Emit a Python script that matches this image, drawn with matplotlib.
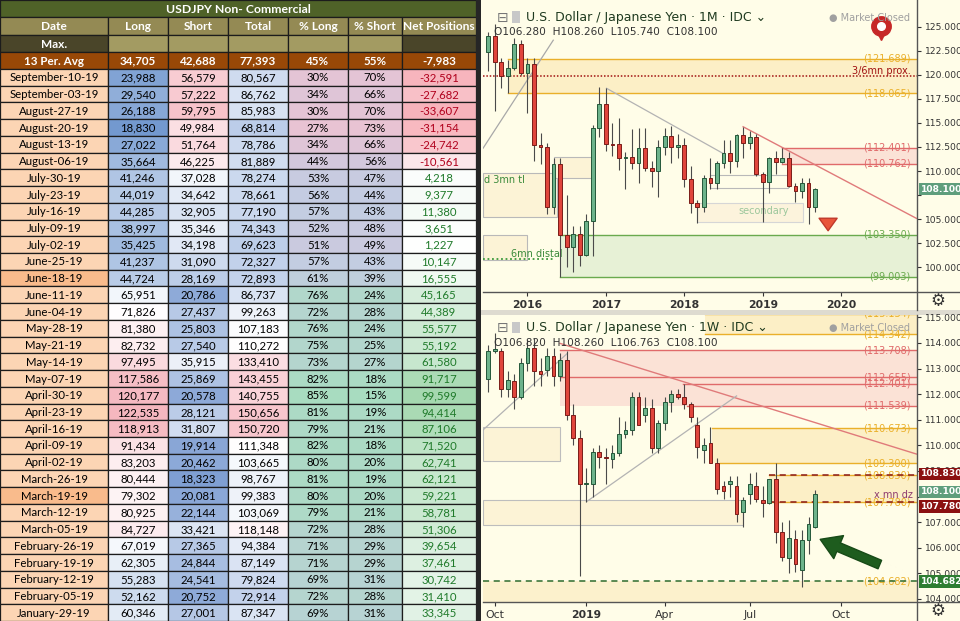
import matplotlib
matplotlib.use('Agg')
import matplotlib.pyplot as plt
import matplotlib.patches as mpatches
import matplotlib.transforms as mtrans
from matplotlib.lines import Line2D
from matplotlib.colors import to_rgb
import numpy as np

# ---------------------------------------------------------------------------
# Table data (COT, USDJPY non-commercial)
# ---------------------------------------------------------------------------
DATES = ['September-10-19', 'September-03-19', 'August-27-19', 'August-20-19',
         'August-13-19', 'August-06-19', 'July-30-19', 'July-23-19', 'July-16-19',
         'July-09-19', 'July-02-19', 'June-25-19', 'June-18-19', 'June-11-19',
         'June-04-19', 'May-28-19', 'May-21-19', 'May-14-19', 'May-07-19',
         'April-30-19', 'April-23-19', 'April-16-19', 'April-09-19', 'April-02-19',
         'March-26-19', 'March-19-19', 'March-12-19', 'March-05-19',
         'February-26-19', 'February-19-19', 'February-12-19', 'February-05-19',
         'January-29-19']
LONG = [23988, 29540, 26188, 18830, 27022, 35664, 41246, 44019, 44285, 38997,
        35425, 41237, 44724, 65951, 71826, 81380, 82732, 97495, 117586, 120177,
        122535, 118913, 91434, 83203, 80444, 79302, 80925, 84727, 67019, 62305,
        55283, 52162, 60346]
SHORT = [56579, 57222, 59795, 49984, 51764, 46225, 37028, 34642, 32905, 35346,
         34198, 31090, 28169, 20786, 27437, 25803, 27540, 35915, 25869, 20578,
         28121, 31807, 19914, 20462, 18323, 20081, 22144, 33421, 27365, 24844,
         24541, 20752, 27001]
TOTAL = [80567, 86762, 85983, 68814, 78786, 81889, 78274, 78661, 77190, 74343,
         69623, 72327, 72893, 86737, 99263, 107183, 110272, 133410, 143455, 140755,
         150656, 150720, 111348, 103665, 98767, 99383, 103069, 118148, 94384, 87149,
         79824, 72914, 87347]
PCT_LONG = [30, 34, 30, 27, 34, 44, 53, 56, 57, 52, 51, 57, 61, 76, 72, 76, 75, 73,
            82, 85, 81, 79, 82, 80, 81, 80, 79, 72, 71, 71, 69, 72, 69]
PCT_SHORT = [70, 66, 70, 73, 66, 56, 47, 44, 43, 48, 49, 43, 39, 24, 28, 24, 25, 27,
             18, 15, 19, 21, 18, 20, 19, 20, 21, 28, 29, 29, 31, 28, 31]
NET = [-32591, -27682, -33607, -31154, -24742, -10561, 4218, 9377, 11380, 3651,
       1227, 10147, 16555, 45165, 44389, 55577, 55192, 61580, 91717, 99599, 94414,
       87106, 71520, 62741, 62121, 59221, 58781, 51306, 39654, 37461, 30742, 31410,
       33345]
AVG_ROW = ['13 Per. Avg', '34,705', '42,688', '77,393', '45%', '55%', '-7,983']
HEADERS = ['Date', 'Long', 'Short', 'Total', '% Long', '% Short', 'Net Positions']
TABLE_TITLE = 'USDJPY Non- Commercial'
HIGHLIGHT_DATES = {'June-18-19', 'March-19-19'}

# ---------------------------------------------------------------------------
# Monthly candles (Jul 2015 .. Sep 2019)
# ---------------------------------------------------------------------------
M_OPEN = [122.4, 124.0, 121.3, 119.9, 120.7, 123.2, 120.2, 121.1, 112.7, 112.5,
          106.3, 110.7, 103.3, 102.1, 103.4, 101.3, 104.8, 114.5, 117.0, 112.8,
          112.8, 111.4, 111.5, 110.8, 112.4, 110.3, 110.0, 112.5, 113.6, 112.5,
          112.7, 109.2, 106.7, 106.3, 109.3, 108.8, 110.8, 111.9, 111.0, 113.7,
          112.9, 113.5, 109.7, 108.9, 111.4, 110.9, 111.4, 108.4, 107.9, 108.8,
          106.28]
M_HIGH = [124.5, 125.3, 121.7, 121.5, 123.8, 123.6, 121.7, 121.7, 114.0, 112.9,
          111.4, 111.4, 107.5, 104.3, 104.3, 105.5, 114.8, 118.7, 118.6, 115.0,
          115.5, 112.0, 114.4, 114.5, 114.5, 111.0, 113.2, 114.5, 114.7, 113.8,
          113.4, 110.5, 107.0, 109.6, 111.4, 111.0, 113.2, 113.2, 113.8, 114.6,
          114.2, 113.8, 109.9, 111.5, 112.1, 112.4, 112.0, 108.8, 109.3, 109.3,
          108.26]
M_LOW = [120.4, 116.2, 118.6, 118.1, 120.5, 120.0, 116.0, 111.0, 110.7, 105.5,
         105.5, 99.0, 100.0, 99.5, 100.1, 101.2, 101.2, 113.5, 112.1, 111.6,
         110.1, 108.1, 110.2, 108.8, 110.0, 108.3, 107.3, 111.7, 110.8, 111.4,
         108.3, 105.6, 104.6, 105.7, 108.1, 108.1, 110.3, 109.8, 110.4, 111.4,
         112.3, 109.5, 104.7, 107.7, 109.7, 110.8, 108.3, 106.8, 107.2, 104.5,
         105.74]
M_CLOSE = [124.0, 121.3, 119.9, 120.7, 123.2, 120.2, 121.1, 112.7, 112.5, 106.3,
           110.7, 103.3, 102.1, 103.4, 101.3, 104.8, 114.5, 117.0, 112.8, 112.75,
           111.4, 111.5, 110.8, 112.4, 110.3, 110.0, 112.5, 113.6, 112.5, 112.7,
           109.2, 106.7, 106.3, 109.3, 108.8, 110.8, 111.9, 111.0, 113.7, 112.9,
           113.5, 109.7, 108.9, 111.4, 110.9, 111.4, 108.4, 107.9, 108.8, 106.3,
           108.1]
M_TICKS = [6, 18, 30, 42, 54]
M_TICK_LABELS = ['2016', '2017', '2018', '2019', '2020']

# ---------------------------------------------------------------------------
# Weekly candles (24 Sep 2018 .. 9 Sep 2019)
# ---------------------------------------------------------------------------
W_OPEN = [112.6, 113.7, 113.7, 112.2, 112.5, 111.9, 113.2, 113.8, 112.9, 112.95,
          113.5, 112.7, 113.35, 111.2, 110.3, 108.5, 108.5, 109.75, 109.55, 109.45,
          109.7, 110.45, 110.6, 111.9, 111.2, 111.45, 109.9, 110.86, 111.7, 112.0,
          111.9, 111.6, 110.8, 109.8, 110.1, 109.3, 108.4, 108.5, 108.4, 107.4,
          108.1, 108.4, 107.87, 107.76, 108.7, 106.6, 105.6, 106.33, 105.13, 106.3,
          106.82]
W_HIGH = [113.9, 114.4, 113.8, 112.9, 112.8, 113.4, 114.1, 114.2, 113.4, 113.8,
          113.8, 113.6, 113.7, 111.6, 110.6, 109.1, 109.9, 110.0, 109.9, 110.0,
          111.1, 110.95, 112.1, 112.1, 111.9, 111.8, 111.0, 111.9, 112.15, 112.2,
          112.4, 111.7, 111.1, 110.3, 110.7, 109.5, 108.6, 108.8, 108.8, 108.0,
          108.9, 108.95, 108.4, 108.7, 109.3, 107.0, 107.1, 106.7, 106.7, 107.2,
          108.26]
W_LOW = [112.1, 113.6, 111.9, 111.9, 111.4, 111.8, 112.9, 112.3, 112.3, 112.7,
         112.3, 112.5, 111.0, 110.0, 104.9, 107.8, 108.0, 109.1, 108.5, 109.1,
         109.6, 110.3, 110.4, 110.8, 110.9, 109.7, 109.7, 110.6, 111.3, 111.8,
         111.4, 110.9, 109.5, 109.3, 109.3, 108.1, 107.9, 108.0, 107.0, 106.8,
         107.7, 107.8, 107.2, 107.7, 106.2, 105.5, 105.0, 105.05, 104.45, 105.75,
         106.763]
W_CLOSE = [113.7, 113.75, 112.2, 112.55, 111.9, 113.2, 113.8, 112.9, 112.8, 113.5,
           112.7, 113.35, 111.2, 110.3, 108.5, 108.5, 109.75, 109.55, 109.5, 109.7,
           110.45, 110.6, 111.9, 110.8, 111.45, 109.9, 110.86, 111.7, 112.0, 111.9,
           111.6, 111.1, 109.95, 110.0, 109.3, 108.3, 108.2, 108.6, 107.3, 107.85,
           108.5, 107.9, 107.73, 108.67, 106.6, 105.65, 106.37, 105.36, 106.3, 106.93,
           108.1]
W_TICKS = [1, 15, 27, 40, 54]
W_TICK_LABELS = ['Oct', '2019', 'Apr', 'Jul', 'Oct']

# ---------------------------------------------------------------------------
# Colours / fonts
# ---------------------------------------------------------------------------
TABLE_FONT = 'Lato'
CHART_FONT = 'DejaVu Sans'
BG = '#fffde8'
GREEN_BODY, GREEN_EDGE = '#6db38b', '#24583a'
RED_BODY, RED_EDGE = '#e0453c', '#7a1c18'
ORANGE = '#eab02a'
RED_LINE = '#e06a6a'

W_PX, H_PX = 960, 621
fig = plt.figure(figsize=(9.6, 6.21), dpi=100, facecolor='#262626')


def blend(c1, c2, t):
    a, b = np.array(to_rgb(c1)), np.array(to_rgb(c2))
    return tuple(a + (b - a) * float(np.clip(t, 0, 1)))


def scale3(v, vmin, vmax, lo, mid, hi):
    m = (vmin + vmax) / 2
    if v <= m:
        return blend(lo, mid, (v - vmin) / (m - vmin))
    return blend(mid, hi, (v - m) / (vmax - m))


# ---------------------------------------------------------------------------
# Table (pixel coordinates)
# ---------------------------------------------------------------------------
tax = fig.add_axes([0, 0, 476 / W_PX, 1])
tax.set_xlim(0, 476)
tax.set_ylim(H_PX, 0)
tax.axis('off')

col_edges = [0, 108, 168, 228, 288, 348, 402, 476]
row_h = (H_PX - 69) / len(DATES)


def cell(c0, c1, y0, y1, fc, txt='', tc='black', bold=False, size=8.2):
    x0, x1 = col_edges[c0], col_edges[c1]
    tax.add_patch(mpatches.Rectangle((x0, y0), x1 - x0, y1 - y0, fc=fc,
                                     ec='#1c1c1c', lw=0.9))
    if txt:
        tax.text((x0 + x1) / 2, (y0 + y1) / 2 + 0.6, txt, ha='center', va='center',
                 color=tc, fontsize=size, family=TABLE_FONT,
                 fontweight='bold' if bold else 'normal')


cell(0, 7, 0, 17, '#4f6228', TABLE_TITLE, 'white', True, 8.8)
for i, h in enumerate(HEADERS):
    cell(i, i + 1, 17, 35, '#948a54', h, 'white', True, 8.6)
for i in range(7):
    fc = '#4a4529' if i in (0, 6) else '#a39b62'
    cell(i, i + 1, 35, 52, fc, 'Max.' if i == 0 else '', 'white', True, 8.6)
for i, t in enumerate(AVG_ROW):
    cell(i, i + 1, 52, 69, '#984807', t, 'white', True, 8.4)

for r, d in enumerate(DATES):
    y0 = 69 + r * row_h
    y1 = y0 + row_h
    cell(0, 1, y0, y1, '#f9bb8c' if d in HIGHLIGHT_DATES else '#fcd5b4', d)
    cell(1, 2, y0, y1, scale3(LONG[r], min(LONG), max(LONG), '#7399cf', '#ffffff', '#f5b7bf'),
         f'{LONG[r]:,}')
    cell(2, 3, y0, y1, scale3(SHORT[r], min(SHORT), max(SHORT), '#7f9fd3', '#ffffff', '#f7c3ca'),
         f'{SHORT[r]:,}')
    cell(3, 4, y0, y1, scale3(TOTAL[r], min(TOTAL), max(TOTAL), '#bccde9', '#ffffff', '#f8c6cd'),
         f'{TOTAL[r]:,}')
    cell(4, 5, y0, y1, scale3(PCT_LONG[r], min(PCT_LONG), max(PCT_LONG),
                              '#e8c3d3', '#c4cce2', '#a8dcc0'), f'{PCT_LONG[r]}%')
    cell(5, 6, y0, y1, scale3(PCT_SHORT[r], min(PCT_SHORT), max(PCT_SHORT),
                              '#a8dcc0', '#c4cce2', '#e8c3d3'), f'{PCT_SHORT[r]}%')
    n = NET[r]
    if n < 0:
        fc = blend('#ffffff', '#f7b3bb', n / min(NET))
        tc = '#b0001c'
    else:
        fc = blend('#ffffff', '#a5d8b0', n / max(NET))
        tc = '#1f7a2a'
    cell(6, 7, y0, y1, fc, f'{n:,}', tc)

# ---------------------------------------------------------------------------
# Chart panels background
# ---------------------------------------------------------------------------
fig.patches.append(mpatches.Rectangle((481 / W_PX, 1 - 310 / H_PX), 479 / W_PX, 310 / H_PX,
                                      transform=fig.transFigure, fc=BG, ec='none', zorder=-5))
fig.patches.append(mpatches.Rectangle((481 / W_PX, 0), 479 / W_PX, 306 / H_PX,
                                      transform=fig.transFigure, fc=BG, ec='none', zorder=-5))
fig.patches.append(mpatches.Rectangle((481 / W_PX, 1 - 315 / H_PX), 479 / W_PX, 5 / H_PX,
                                      transform=fig.transFigure, fc='#dedbd0', ec='none', zorder=-5))
for (xa, ya, xb, yb) in [(917, 0, 917, 310), (483, 292, 960, 292),
                         (917, 315, 917, 621), (483, 602, 960, 602)]:
    fig.add_artist(Line2D([xa / W_PX, xb / W_PX], [1 - ya / H_PX, 1 - yb / H_PX],
                          color='#555555', lw=1, transform=fig.transFigure))

axm = fig.add_axes([483 / W_PX, 1 - 292 / H_PX, 434 / W_PX, 292 / H_PX])
axw = fig.add_axes([483 / W_PX, 1 - 602 / H_PX, 434 / W_PX, 287 / H_PX])


def style_axes(ax, ylim, yticks, hidden, xticks, xlabels, bold_labels):
    ax.set_facecolor(BG)
    ax.set_xlim(-0.8, 65.6)
    ax.set_ylim(*ylim)
    for s in ax.spines.values():
        s.set_visible(False)
    ax.yaxis.tick_right()
    ax.set_yticks(yticks)
    ax.set_yticklabels(['' if round(v, 3) in hidden else f'{v:.3f}' for v in yticks])
    ax.tick_params(axis='y', labelsize=6.6, colors='#333333', length=3, pad=2.5,
                   direction='out')
    ax.set_xticks(xticks)
    ax.set_xticklabels(xlabels)
    ax.tick_params(axis='x', labelsize=7.8, colors='#333333', length=3, pad=3)
    for lab in ax.get_xticklabels():
        lab.set_fontweight('bold' if lab.get_text() in bold_labels else 'normal')
        lab.set_family(CHART_FONT)
    for lab in ax.get_yticklabels():
        lab.set_family(CHART_FONT)


def draw_candles(ax, o, h, l, c):
    o, h, l, c = map(np.asarray, (o, h, l, c))
    x = np.arange(len(o))
    up = c >= o
    ax.vlines(x, l, h, color='#4a4a4a', lw=0.8, zorder=5)
    bottom = np.minimum(o, c)
    height = np.maximum(np.abs(c - o), 0.02)
    ax.bar(x[up], height[up], 0.58, bottom[up], color=GREEN_BODY,
           edgecolor=GREEN_EDGE, lw=0.7, zorder=6)
    ax.bar(x[~up], height[~up], 0.58, bottom[~up], color=RED_BODY,
           edgecolor=RED_EDGE, lw=0.7, zorder=6)


def zone(ax, x0, lo, hi, fc, x1=65.6, ec='none', lw=0.8):
    ax.add_patch(mpatches.Rectangle((x0, lo), x1 - x0, hi - lo, fc=fc, ec=ec,
                                    lw=lw, zorder=1))


def level(ax, y, x0, color, ls='-', lw=1.0, label=True):
    ax.plot([x0, 65.6], [y, y], color=color, ls=ls, lw=lw, zorder=2)
    if label:
        ax.text(64.6, y, f'({y:.3f})', ha='right', va='center', color=color,
                fontsize=7, family=CHART_FONT, zorder=3, clip_on=True)


def price_tag(ax, y, txt, fc, dy=0.0):
    # dy: small vertical nudge so stacked tags don't cover each other
    tr = mtrans.blended_transform_factory(ax.transAxes, ax.transData)
    ax.text(1.008, y + dy, txt, transform=tr, ha='left', va='center', fontsize=6.6,
            color='white', fontweight='bold', family=CHART_FONT, clip_on=False,
            zorder=20, bbox=dict(boxstyle='square,pad=0.18', fc=fc, ec='none'))


def header(ax, ypos_title, ypos_ohlc, interval, ohlc):
    ax.text(0.032, ypos_title, '⊟', transform=ax.transAxes, fontsize=10,
            color='#777777', va='center', family=CHART_FONT, zorder=20)
    ax.add_patch(mpatches.Rectangle((0.067, ypos_title - 0.018), 0.018, 0.04,
                                    transform=ax.transAxes, fc='#c8c8c8', ec='none',
                                    zorder=20))
    ax.text(0.098, ypos_title, f'U.S. Dollar / Japanese Yen · {interval} · IDC ⌄',
            transform=ax.transAxes, fontsize=9, color='#1f3a1f', va='center',
            family=CHART_FONT, zorder=20)
    ax.text(0.025, ypos_ohlc, ohlc, transform=ax.transAxes, fontsize=7.6,
            color='#333333', va='center', family=CHART_FONT, zorder=20)
    ax.text(0.985, ypos_title, '● Market Closed', transform=ax.transAxes,
            fontsize=7, color='#a0a0a0', va='center', ha='right',
            family=CHART_FONT, zorder=19)


# ---------------------------------------------------------------------------
# Monthly chart
# ---------------------------------------------------------------------------
style_axes(axm, (97.42, 127.78), np.arange(100, 125.1, 2.5), {107.5},
           M_TICKS, M_TICK_LABELS, set(M_TICK_LABELS))

zone(axm, 3.06, 118.065, 121.689, '#fcefc6')
zone(axm, 44.9, 110.762, 112.401, '#fbe2d6')
zone(axm, 11.0, 99.003, 103.350, '#e7f1d6')
zone(axm, -0.8, 105.26, 109.76, '#fcf3d6', x1=10.5, ec='#b9b9b9')
zone(axm, 10.0, 109.24, 111.49, '#fcf3d6', x1=15.9, ec='#b9b9b9')
zone(axm, -0.8, 100.75, 103.35, '#fcf3d6', x1=6.0, ec='#b9b9b9')
zone(axm, 33.9, 108.2, 109.6, 'none', x1=45.9, ec='#b9b9b9')
zone(axm, 32.0, 104.74, 106.71, '#fcf3dc', x1=48.1, ec='#d6d6d6')
level(axm, 121.689, 3.06, ORANGE)
level(axm, 118.065, 3.06, ORANGE)
level(axm, 112.401, 44.9, RED_LINE)
level(axm, 110.762, 44.9, RED_LINE)
level(axm, 103.350, 11.0, '#6aaa4e')
level(axm, 99.003, 11.0, '#6aaa4e')
axm.plot([-0.8, 65.6], [119.84, 119.84], color='#a01010', ls=(0, (1, 1.2)), lw=1.1, zorder=2)
axm.plot([-0.8, 9.85], [100.82, 100.82], color='#3c9a3c', ls=(0, (1, 1.5)), lw=1.3, zorder=2)
axm.plot([18.1, 36.0], [118.6, 111.8], color='#b3b3b3', lw=0.9, zorder=2)
axm.plot([-0.8, 9.95], [112.36, 123.6], color='#a8a8a8', lw=0.9, zorder=2)
axm.plot([39.0, 65.5], [114.6, 105.08], color='#e07a7a', lw=1.0, zorder=2)
axm.text(64.6, 120.4, '3/6mn prox.', color='#a01010', fontsize=7, ha='right',
         va='center', family=CHART_FONT, zorder=3)
axm.text(-0.7, 109.07, 'd 3mn tl', color='#3a8a3a', fontsize=7, va='center',
         family=CHART_FONT, zorder=3)
axm.text(7.5, 101.35, '6mn distal', color='#3a8a3a', fontsize=7, va='center',
         ha='center', family=CHART_FONT, zorder=3)
axm.text(42.2, 105.85, 'secondary', color='#9cc79c', fontsize=7, va='center',
         ha='center', family=CHART_FONT, zorder=3)
draw_candles(axm, M_OPEN, M_HIGH, M_LOW, M_CLOSE)
axm.annotate('', xy=(52.0, 103.5), xytext=(52.0, 105.3),
             arrowprops=dict(arrowstyle='simple,head_width=1.3,head_length=0.9,tail_width=0.55',
                             fc='#e8553a', ec='#c0392b', mutation_scale=10), zorder=8)
axm.plot(0.917, 0.885, marker='v', ms=9, color='#c62828', transform=axm.transAxes,
         zorder=18, clip_on=False)
axm.plot(0.917, 0.912, marker='o', ms=14, color='#c62828', transform=axm.transAxes,
         zorder=18, clip_on=False)
axm.plot(0.917, 0.912, marker='o', ms=5.5, color='white', transform=axm.transAxes,
         zorder=19, clip_on=False)
header(axm, 0.94, 0.89, '1M', 'O106.280  H108.260  L105.740  C108.100')
price_tag(axm, 108.100, '108.100', '#5f9e7c')

# ---------------------------------------------------------------------------
# Weekly chart
# ---------------------------------------------------------------------------
style_axes(axw, (103.88, 115.09), np.arange(104, 115.1, 1.0), {108.0},
           W_TICKS, W_TICK_LABELS, {'2019'})

zone(axw, 33.2, 114.342, 115.134, '#fcefc6')
zone(axw, 11.0, 111.539, 113.708, '#fbe2d6')
zone(axw, 34.2, 109.300, 110.673, '#fcefc6')
zone(axw, 43.0, 107.780, 108.830, '#fcefc6')
zone(axw, -0.8, 103.88, 104.682, '#fcf1cc')
zone(axw, -0.8, 106.89, 107.86, '#fcf3d6', x1=39.0, ec='#bdbdbd')
zone(axw, -0.8, 109.4, 110.7, '#fcf3d6', x1=11.0, ec='#bdbdbd')
level(axw, 115.134, 33.2, ORANGE)
level(axw, 114.342, 33.2, ORANGE)
level(axw, 113.708, 11.0, RED_LINE)
level(axw, 112.655, 11.0, RED_LINE)
level(axw, 112.401, 29.8, RED_LINE)
level(axw, 111.539, 30.4, RED_LINE)
level(axw, 110.673, 34.2, ORANGE)
level(axw, 109.300, 35.5, ORANGE)
level(axw, 108.830, 43.0, ORANGE)
level(axw, 107.780, 43.0, ORANGE)
level(axw, 104.682, -0.8, ORANGE, lw=0)
axw.plot([43.0, 65.6], [108.830, 108.830], color='#8b1a1a', ls=(0, (4, 3)), lw=1.1, zorder=3)
axw.plot([43.0, 65.6], [107.780, 107.780], color='#8b1a1a', ls=(0, (4, 3)), lw=1.1, zorder=3)
axw.plot([-0.8, 65.6], [104.682, 104.682], color='#2e6b2e', ls=(0, (4, 3)), lw=1.1, zorder=3)
axw.plot([11.0, 65.5], [113.98, 109.66], color='#e07a7a', lw=1.0, zorder=2)
axw.plot([-0.8, 12.1], [110.6, 113.59], color='#b3b3b3', lw=0.9, zorder=2)
axw.plot([15.05, 38.0], [107.8, 111.93], color='#b3b3b3', lw=0.9, zorder=2)
axw.text(64.9, 108.05, 'x mn dz', color='#8e3a6e', fontsize=7, ha='right',
         va='center', family=CHART_FONT, zorder=4)
draw_candles(axw, W_OPEN, W_HIGH, W_LOW, W_CLOSE)
axw.annotate('', xy=(50.4, 106.37), xytext=(60.3, 105.3),
             arrowprops=dict(arrowstyle='simple,head_width=1.5,head_length=1.2,tail_width=0.55',
                             fc='#1e5c1e', ec='#174a17', mutation_scale=12), zorder=8)
header(axw, 0.955, 0.902, '1W', 'O106.820  H108.260  L106.763  C108.100')
price_tag(axw, 108.830, '108.830', '#8b1010', dy=0.05)
price_tag(axw, 108.100, '108.100', '#5f9e7c', dy=0.08)
price_tag(axw, 107.780, '107.780', '#8b1010', dy=-0.17)
price_tag(axw, 104.682, '104.682', '#2e7d32')

# gear icons
for gy in (301, 611):
    fig.text(938 / W_PX, 1 - gy / H_PX, '⚙', ha='center', va='center', fontsize=12,
             color='#333333', family=CHART_FONT)

fig.savefig('out.png', dpi=100, facecolor=fig.get_facecolor())
